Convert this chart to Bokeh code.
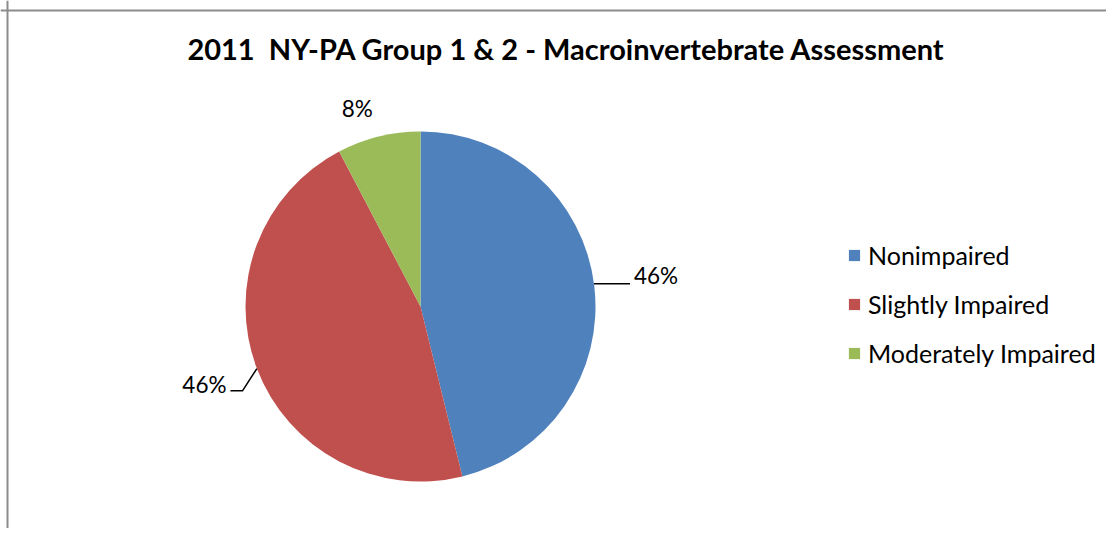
import math
from bokeh.plotting import figure
from bokeh.models import ColumnDataSource, Range1d, Span
from bokeh.core.properties import value
from bokeh.embed import file_html
from bokeh.resources import INLINE

title_text = "2011\u00a0 NY-PA Group 1 & 2 - Macroinvertebrate Assessment"
categories = ["Nonimpaired", "Slightly Impaired", "Moderately Impaired"]
counts = [6, 6, 1]
colors = ["#4F81BD", "#C0504D", "#9BBB59"]

W, H = 1106, 528
CX, CY, R = 420, 222, 175
FONT = "Lato"

p = figure(width=W, height=H, x_range=Range1d(0, W), y_range=Range1d(0, H),
           x_axis_type=None, y_axis_type=None, output_backend="svg",
           toolbar_location=None, min_border=0)
p.min_border_left = p.min_border_right = p.min_border_top = p.min_border_bottom = 0
p.grid.visible = False
p.outline_line_color = None
p.background_fill_color = "white"

# chart-area border (left & top visible)
p.add_layout(Span(location=7, dimension="height", line_color="#8c8c8c", line_width=2))
p.add_layout(Span(location=H - 10, dimension="width", line_color="#8c8c8c", line_width=2))

total = sum(counts)
starts, ends, mids, labels = [], [], [], []
cum = 0
for c in counts:
    s = math.pi / 2 - 2 * math.pi * cum / total
    e = s - 2 * math.pi * c / total
    starts.append(s)
    ends.append(e)
    mids.append((s + e) / 2)
    labels.append(f"{round(100 * c / total)}%")
    cum += c

src = ColumnDataSource(dict(category=categories, count=counts, color=colors,
                            start=starts, end=ends))
p.wedge(x=CX, y=CY, radius=R, start_angle="start", end_angle="end",
        direction="clock", fill_color="color", line_color=None,
        legend_field="category", source=src)

# title
p.text(x=[566], y=[H - 48], text=[title_text], text_font=value(FONT),
       text_font_style="bold", text_font_size="29px", text_align="center",
       text_baseline="middle", text_color="black")

# data labels
lx, ly, la = [], [], []
lead_xs, lead_ys = [], []
for i, m in enumerate(mids):
    if math.cos(m) > 0.3:  # right side, with horizontal leader
        ex, ey = CX + R * math.cos(m + 0.01), CY + R * math.sin(m + 0.01)
        tx = ex + 40
        lead_xs.append([ex, tx - 4]); lead_ys.append([ey, ey])
        lx.append(tx); ly.append(ey + 8); la.append("left")
    elif math.cos(m) < -0.3:  # left side, with bent leader
        ex, ey = CX + R * math.cos(m), CY + R * math.sin(m)
        bx, by = CX + (R + 22) * math.cos(m + 0.08), CY + (R + 22) * math.sin(m + 0.08)
        tx = bx - 12
        lead_xs.append([ex, bx, tx]); lead_ys.append([ey, by, by])
        lx.append(tx - 4); ly.append(by + 6); la.append("right")
    else:  # top, no leader
        lx.append(CX + 206 * math.cos(m + 0.07)); ly.append(CY + 208 * math.sin(m + 0.07))
        la.append("center")

p.multi_line(xs=lead_xs, ys=lead_ys, line_color="black", line_width=1.5)
lsrc = ColumnDataSource(dict(x=lx, y=ly, text=labels, align=la))
p.text(x="x", y="y", text="text", text_align="align", text_baseline="middle",
       text_font=value(FONT), text_font_size="22.5px", text_color="black", source=lsrc)

leg = p.legend[0]
leg.location = (847, 160)
leg.border_line_color = None
leg.background_fill_alpha = 0
leg.padding = 0
leg.margin = 0
leg.glyph_width = 14
leg.glyph_height = 14
leg.label_standoff = 7
leg.spacing = 19
leg.label_text_font = FONT
leg.label_text_font_size = "25px"
leg.label_text_color = "black"

open("out.html", "w").write(file_html(p, INLINE))
